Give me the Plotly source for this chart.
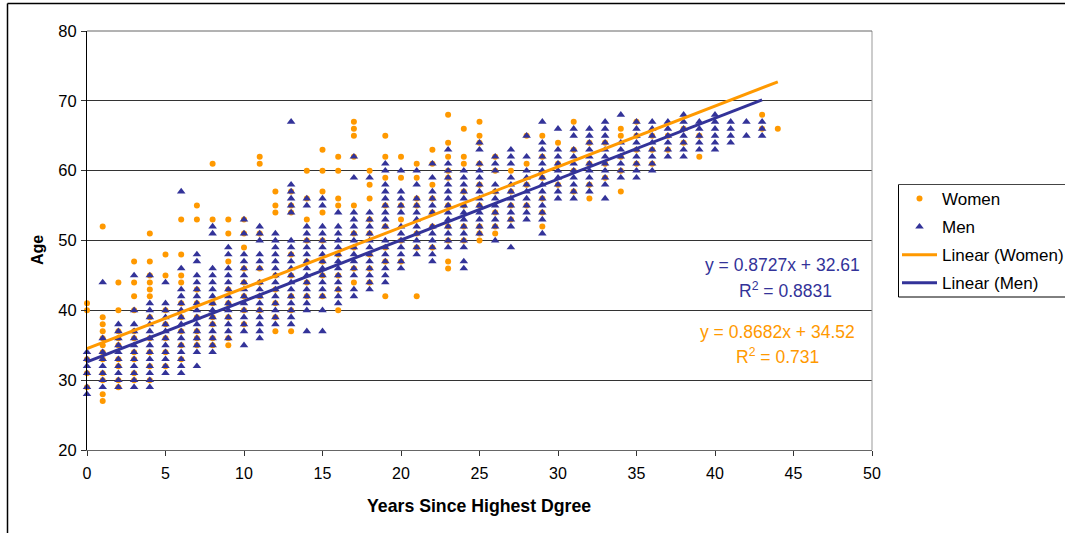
import plotly.graph_objects as go

years = list(range(0, 45))

men_ages = [
    [34, 33, 32, 31, 29, 28],
    [44, 36, 34, 33, 32, 31, 30, 29],
    [38, 37, 36, 35, 34, 33, 32, 31, 30, 29],
    [45, 40, 38, 37, 36, 35, 34, 33, 32, 31, 30, 29],
    [45, 41, 40, 39, 38, 37, 36, 35, 34, 33, 32, 31, 30, 29],
    [44, 41, 40, 39, 38, 37, 36, 35, 34, 33, 32, 31],
    [57, 46, 43, 42, 41, 40, 39, 38, 37, 36, 35, 34, 33, 32, 31],
    [48, 47, 45, 44, 43, 42, 41, 40, 39, 38, 37, 36, 35, 34, 32],
    [52, 51, 46, 45, 44, 43, 42, 41, 40, 39, 38, 37, 36, 35, 34],
    [49, 48, 46, 45, 44, 43, 42, 41, 40, 39, 38, 37, 36],
    [53, 51, 48, 47, 46, 45, 44, 43, 42, 41, 40, 39, 38, 37, 35],
    [52, 51, 50, 48, 47, 46, 44, 43, 42, 41, 40, 39, 38, 37, 36],
    [51, 50, 49, 48, 47, 46, 45, 44, 43, 42, 41, 40, 39, 38],
    [67, 58, 57, 56, 55, 54, 50, 49, 48, 47, 46, 45, 44, 43, 42, 41, 40, 39, 38],
    [56, 55, 52, 51, 50, 49, 48, 47, 46, 45, 44, 43, 42, 41, 40, 37],
    [56, 55, 52, 51, 50, 49, 48, 47, 46, 45, 44, 43, 42, 40, 37],
    [54, 52, 51, 50, 49, 48, 47, 46, 45, 44, 43, 42, 41],
    [62, 59, 54, 53, 52, 51, 50, 49, 48, 47, 46, 45, 43, 42],
    [59, 54, 53, 52, 51, 50, 49, 48, 47, 46, 45, 44, 43],
    [61, 60, 58, 57, 56, 55, 54, 53, 52, 50, 49, 48, 47, 46, 45, 44],
    [60, 57, 56, 55, 54, 52, 51, 50, 49, 48, 47, 46],
    [60, 58, 56, 55, 54, 53, 52, 51, 50, 49, 48],
    [61, 59, 57, 56, 55, 54, 52, 51, 50, 49, 48, 47],
    [63, 61, 60, 59, 58, 57, 56, 55, 54, 53, 52, 51, 50, 49],
    [60, 59, 58, 57, 56, 55, 54, 53, 52, 51, 50, 49, 47, 46],
    [64, 63, 61, 60, 59, 58, 57, 56, 55, 54, 53, 52, 51],
    [62, 61, 60, 58, 57, 56, 55, 54, 53, 52, 50],
    [63, 62, 61, 59, 58, 57, 56, 55, 54, 53, 52, 49],
    [65, 62, 60, 59, 58, 57, 56, 55, 54, 53],
    [67, 64, 63, 62, 61, 60, 59, 58, 57, 56, 55, 54, 53, 51],
    [66, 63, 62, 61, 60, 59, 58, 57, 56],
    [66, 65, 63, 62, 61, 60, 59, 58, 57, 56],
    [66, 65, 64, 63, 62, 61, 60, 59, 58, 57],
    [67, 66, 65, 64, 63, 62, 61, 60, 59, 58, 56],
    [68, 64, 63, 62, 61, 60, 59],
    [67, 66, 65, 64, 63, 62, 61, 60, 59],
    [67, 66, 65, 64, 63, 62, 61, 60],
    [67, 66, 65, 64, 63, 62],
    [68, 67, 66, 65, 64, 63, 62],
    [67, 66, 65, 64, 63],
    [68, 67, 66, 65, 64, 63],
    [67, 66, 65, 64],
    [67, 65],
    [67, 66, 65],
    [],
]

women_ages = [
    [41, 40, 33, 31, 29],
    [52, 39, 38, 37, 36, 35, 34, 33, 31, 30, 28, 27],
    [44, 40, 37, 36, 35, 33, 32, 30, 29],
    [47, 44, 42, 40, 37, 36, 34, 33, 31, 30],
    [51, 47, 45, 44, 43, 42, 39, 36, 34, 32, 30],
    [48, 45, 40, 38, 36, 34, 32],
    [53, 48, 45, 44, 41, 39, 37, 35, 33],
    [55, 53, 43, 41, 39, 37, 36, 35],
    [61, 53, 41, 39, 38, 36, 35],
    [53, 51, 47, 43, 41, 39, 36, 35],
    [53, 51, 49, 46, 44, 42, 40, 38],
    [62, 61, 51, 46, 44, 42, 40],
    [57, 55, 54, 45, 43, 41, 39, 37],
    [57, 55, 54, 48, 45, 42, 40, 37],
    [60, 56, 53, 50, 47, 44, 42],
    [63, 60, 57, 54, 50, 47, 45, 42],
    [62, 60, 56, 55, 48, 45, 43, 40],
    [67, 66, 65, 62, 55, 51, 49, 46, 44],
    [60, 58, 56, 53, 51, 48, 46, 44],
    [65, 62, 59, 55, 52, 49, 47, 42],
    [62, 59, 55, 53, 50, 47],
    [61, 59, 56, 55, 51, 49, 42],
    [63, 61, 58, 56, 54, 52, 49],
    [68, 64, 62, 60, 59, 55, 52, 50, 47, 46],
    [66, 62, 61, 57, 55, 52, 50],
    [67, 65, 64, 61, 58, 55, 52, 51, 50],
    [62, 60, 57, 54, 52, 51],
    [60, 57, 55, 53],
    [65, 61, 58, 55],
    [65, 62, 59, 56, 54, 52],
    [64, 61, 58],
    [67, 63, 60, 57],
    [64, 61, 58, 56],
    [64, 61, 59],
    [66, 65, 62, 60, 57],
    [67, 65, 63, 61],
    [65, 63, 61],
    [65, 63],
    [66, 64],
    [65, 62],
    [],
    [],
    [],
    [68, 66],
    [66],
]

women_trend_x = [0, 44]
women_trend_y = [34.52, 72.72]
men_trend_x = [0, 43]
men_trend_y = [32.61, 70.14]

x_ticks = [0, 5, 10, 15, 20, 25, 30, 35, 40, 45, 50]
y_ticks = [20, 30, 40, 50, 60, 70, 80]

ORANGE = "#FF9900"
NAVY = "#333399"
FONT = "Liberation Sans"

women_x = [yr for yr, ages in zip(years, women_ages) for _ in ages]
women_y = [a for ages in women_ages for a in ages]
men_x = [yr for yr, ages in zip(years, men_ages) for _ in ages]
men_y = [a for ages in men_ages for a in ages]

fig = go.Figure()
fig.add_trace(go.Scatter(x=women_x, y=women_y, mode="markers", name="Women", legendgroup="a",
                         marker=dict(symbol="circle", size=6, color=ORANGE), cliponaxis=False))
fig.add_trace(go.Scatter(x=men_x, y=men_y, mode="markers", name="Men", legendgroup="b",
                         marker=dict(symbol="triangle-up", size=7.5, color=NAVY), cliponaxis=False))
fig.add_trace(go.Scatter(x=women_trend_x, y=women_trend_y, mode="lines", name="Linear (Women)", legendgroup="c",
                         line=dict(color=ORANGE, width=3)))
fig.add_trace(go.Scatter(x=men_trend_x, y=men_trend_y, mode="lines", name="Linear (Men)", legendgroup="d",
                         line=dict(color=NAVY, width=3)))

W, H = 1065, 533
L, R, T, B = 87, 872, 31, 450


def px(v):
    return (v - L) / (R - L)


def py(v):
    return (B - v) / (B - T)


def note(xp, yp, text, color, size=17.5, **kw):
    return dict(xref="paper", yref="paper", x=px(xp), y=py(yp), text=text, showarrow=False,
                xanchor="center", yanchor="middle", font=dict(family=FONT, size=size, color=color), **kw)


fig.update_layout(
    width=W, height=H, autosize=False,
    margin=dict(l=L, r=W - R, t=T, b=H - B, pad=0, autoexpand=False),
    paper_bgcolor="white", plot_bgcolor="white",
    font=dict(family=FONT, size=16, color="black"),
    legend=dict(x=px(897), y=py(181), xanchor="left", yanchor="top", bgcolor="rgba(0,0,0,0)",
                borderwidth=0, tracegroupgap=3, itemwidth=35,
                font=dict(family=FONT, size=17, color="black")),
    xaxis=dict(range=[0, 50], tickvals=x_ticks, ticks="outside", ticklen=5, tickcolor="#333333",
               showgrid=False, zeroline=False, showline=True, linecolor="#666666", linewidth=1,
               ticklabelstandoff=4, tickfont=dict(family=FONT, size=16)),
    yaxis=dict(range=[20, 80], tickvals=y_ticks, ticks="outside", ticklen=5, tickcolor="#333333",
               showgrid=True, gridcolor="#333333", gridwidth=1, zeroline=False,
               showline=True, linecolor="black", linewidth=1,
               ticklabelstandoff=1, tickfont=dict(family=FONT, size=16.5)),
    annotations=[
        note(782, 265, "y = 0.8727x + 32.61", NAVY),
        note(785, 290, "R<sup>2</sup> = 0.8831", NAVY),
        note(777, 332, "y = 0.8682x + 34.52", ORANGE),
        note(777, 356, "R<sup>2</sup> = 0.731", ORANGE),
        note(479, 506, "<b>Years Since Highest Dgree</b>", "black", size=17.7),
        note(37, 250, "<b>Age</b>", "black", size=16, textangle=-90),
    ],
    shapes=[
        dict(type="line", xref="paper", yref="paper", x0=px(R), x1=px(R), y0=0, y1=1,
             line=dict(color="#999999", width=1)),
        dict(type="line", xref="paper", yref="paper", x0=1e-9, x1=1, y0=1, y1=1,
             line=dict(color="#666666", width=1)),
        dict(type="line", xref="paper", yref="paper", x0=px(7.5), x1=px(7.5), y0=py(3.5), y1=py(540),
             line=dict(color="black", width=1.5)),
        dict(type="line", xref="paper", yref="paper", x0=px(7.5), x1=px(1070), y0=py(3.5), y1=py(3.5),
             line=dict(color="black", width=1.5)),
        dict(type="line", xref="paper", yref="paper", x0=px(898.5), x1=px(898.5), y0=py(184.5), y1=py(297),
             line=dict(color="black", width=1)),
        dict(type="line", xref="paper", yref="paper", x0=px(898.5), x1=px(1070), y0=py(184.5), y1=py(184.5),
             line=dict(color="#444444", width=1)),
        dict(type="line", xref="paper", yref="paper", x0=px(898.5), x1=px(1070), y0=py(297), y1=py(297),
             line=dict(color="black", width=1)),
    ],
)

fig.write_html("out.html", post_script="document.body.style.margin='0';",
               config={"displayModeBar": False})
